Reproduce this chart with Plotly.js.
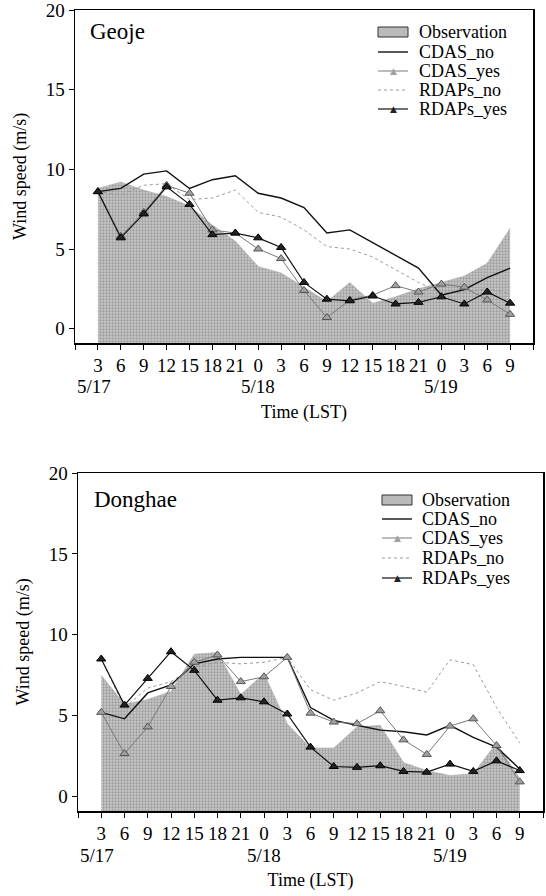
<!DOCTYPE html>
<html>
<head>
<meta charset="utf-8">
<script src="https://cdn.plot.ly/plotly-3.0.1.min.js"></script>
<style>
html,body{margin:0;padding:0;background:#fff;}
#chart{width:546px;height:896px;}
</style>
</head>
<body>
<div id="chart"></div>
<script>
// ---------- data ----------
const hourLabels = ['3','6','9','12','15','18','21','0','3','6','9','12','15','18','21','0','3','6','9'];
const dateLabels = ['5/17','5/18','5/19'];
const dateIndex  = [-1, 7, 15];           // index of hour 0 of each day
const yTickVals  = [0, 5, 10, 15, 20];
const seriesNames = ['Observation','CDAS_no','CDAS_yes','RDAPs_no','RDAPs_yes'];

// Geoje
const geojeObs      = [8.8, 9.2, 8.7, 8.3, 7.7, 6.5, 5.5, 3.9, 3.5, 2.6, 1.7, 2.9, 1.6, 2.0, 2.5, 2.9, 3.3, 4.1, 6.3];
const geojeCdasNo   = [8.6, 8.8, 9.7, 9.9, 8.8, 9.35, 9.6, 8.5, 8.2, 7.6, 6.0, 6.2, 5.4, 4.6, 3.8, 2.1, 2.45, 3.2, 3.8];
const geojeCdasYes  = [8.6, 5.8, 7.3, 9.0, 8.5, 6.2, 6.0, 5.0, 4.4, 2.4, 0.7, 1.8, 2.1, 2.7, 2.3, 2.8, 2.6, 1.8, 0.9];
const geojeRdapsNo  = [8.6, 8.4, 9.0, 9.1, 8.1, 8.2, 8.7, 7.3, 7.0, 6.2, 5.15, 5.0, 4.5, 3.7, 2.9, 2.25, 2.3, 2.5, 2.2];
const geojeRdapsYes = [8.6, 5.7, 7.2, 8.9, 7.8, 5.9, 6.0, 5.7, 5.1, 2.9, 1.85, 1.75, 2.05, 1.55, 1.65, 2.0, 1.55, 2.3, 1.6];

// Donghae
const donghaeObs      = [7.5, 5.7, 6.0, 6.5, 8.8, 8.9, 6.3, 7.6, 4.5, 3.0, 3.0, 4.3, 4.4, 2.1, 1.6, 1.3, 1.4, 3.3, 1.1];
const donghaeCdasNo   = [5.2, 4.8, 6.4, 6.9, 8.2, 8.5, 8.6, 8.6, 8.6, 5.5, 4.7, 4.4, 4.1, 4.0, 3.8, 4.4, 3.65, 3.05, 1.7];
const donghaeCdasYes  = [5.2, 2.65, 4.3, 6.8, 8.3, 8.75, 7.1, 7.4, 8.6, 5.15, 4.6, 4.5, 5.3, 3.5, 2.6, 4.35, 4.8, 3.15, 0.9];
const donghaeRdapsNo  = [8.5, 5.5, 6.7, 7.1, 8.0, 8.3, 8.2, 8.3, 8.6, 6.6, 5.95, 6.4, 7.1, 6.8, 6.45, 8.45, 8.15, 5.5, 3.3];
const donghaeRdapsYes = [8.5, 5.65, 7.3, 8.95, 7.8, 5.95, 6.1, 5.85, 5.1, 3.05, 1.85, 1.8, 1.9, 1.55, 1.5, 2.0, 1.55, 2.2, 1.6];

// ---------- layout helpers ----------
const W = 546, H = 896;
const fx = v => v / W;
const fy = v => 1 - v / H;
const FONT = 'Liberation Serif, Times New Roman, serif';
const Y_MIN = -0.9, Y_MAX = 20;
const X_MIN = -1, X_MAX = 19;
const idx = hourLabels.map((_, i) => i);
const tickVals = [];
for (let v = X_MIN; v <= X_MAX; v++) tickVals.push(v);
const tickText = tickVals.map(v => hourLabels[v] !== undefined ? hourLabels[v] : '');

const OBS_FILL = '#bababa';
const OBS_PATTERN = {shape: '.', fgcolor: '#9c9c9c', bgcolor: '#c9c9c9', size: 3, solidity: 0.45};
const styles = {
  CDAS_no:   {mode:'lines', line:{color:'#111', width:1.4}},
  CDAS_yes:  {mode:'lines+markers', line:{color:'#7a7a7a', width:1},
              marker:{symbol:'triangle-up', size:8, color:'#a0a0a0', line:{color:'#555', width:1}}},
  RDAPs_no:  {mode:'lines', line:{color:'#9a9a9a', width:1, dash:'dot'}},
  RDAPs_yes: {mode:'lines+markers', line:{color:'#111', width:1.2},
              marker:{symbol:'triangle-up', size:8, color:'#222', line:{color:'#000', width:1}}}
};

const panels = [
  {name:'Geoje', obs:geojeObs, CDAS_no:geojeCdasNo, CDAS_yes:geojeCdasYes, RDAPs_no:geojeRdapsNo, RDAPs_yes:geojeRdapsYes,
   xa:'x', ya:'y', box:[75,533,10,343], nameAt:[88,32], leg:{sx:378, tx:417, rows:[32,52,71,90,109]}},
  {name:'Donghae', obs:donghaeObs, CDAS_no:donghaeCdasNo, CDAS_yes:donghaeCdasYes, RDAPs_no:donghaeRdapsNo, RDAPs_yes:donghaeRdapsYes,
   xa:'x2', ya:'y2', box:[78,543,473,811], nameAt:[92,499], leg:{sx:382, tx:420, rows:[500,519,538,558,578]}}
];

const traces = [];
const annotations = [];
const shapes = [];
const layout = {
  width: W, height: H,
  margin: {l:0, r:0, t:0, b:0},
  paper_bgcolor: '#fff', plot_bgcolor: '#fff',
  showlegend: false,
  font: {family: FONT, color: '#000', size: 18}
};

panels.forEach((p, k) => {
  const xa = p.xa, ya = p.ya;
  // baseline at the bottom of the axis for the observation fill
  traces.push({x: idx, y: idx.map(() => Y_MIN), xaxis: xa, yaxis: ya, mode: 'lines',
    line: {width: 0, color: 'rgba(0,0,0,0)'}, hoverinfo: 'skip', showlegend: false});
  traces.push({x: idx, y: p.obs, xaxis: xa, yaxis: ya, name: 'Observation', mode: 'lines',
    fill: 'tonexty', fillcolor: OBS_FILL, fillpattern: OBS_PATTERN, line: {width: 0.5, color: '#a8a8a8'}});
  ['RDAPs_no', 'CDAS_no', 'CDAS_yes', 'RDAPs_yes'].forEach(s => {
    traces.push(Object.assign({x: idx, y: p[s], xaxis: xa, yaxis: ya, name: s}, JSON.parse(JSON.stringify(styles[s]))));
  });

  const [x0, x1, y0, y1] = p.box;
  const xKey = k === 0 ? 'xaxis' : 'xaxis2';
  const yKey = k === 0 ? 'yaxis' : 'yaxis2';
  layout[xKey] = {
    domain: [fx(x0), fx(x1)], anchor: ya, range: [X_MIN, X_MAX],
    tickmode: 'array', tickvals: tickVals, ticktext: tickText,
    ticks: 'outside', ticklen: 5, tickwidth: 1, tickcolor: '#000',
    showline: true, linecolor: '#000', linewidth: 1.5, mirror: true,
    showgrid: false, zeroline: false, fixedrange: true, ticklabeloverflow: 'allow',
    tickfont: {family: FONT, size: 19, color: '#000'},
    title: {text: 'Time (LST)', font: {family: FONT, size: 18, color: '#000'}, standoff: 30}
  };
  layout[yKey] = {
    domain: [fy(y1), fy(y0)], anchor: xa, range: [Y_MIN, Y_MAX],
    tickmode: 'array', tickvals: yTickVals,
    ticks: 'outside', ticklen: 5, tickwidth: 1, tickcolor: '#000',
    showline: true, linecolor: '#000', linewidth: 1.5, mirror: true,
    showgrid: false, zeroline: false, fixedrange: true, ticklabeloverflow: 'allow',
    tickfont: {family: FONT, size: 19, color: '#000'},
    title: {text: 'Wind speed (m/s)', font: {family: FONT, size: 18, color: '#000'}, standoff: 14}
  };

  // date labels under the hour ticks
  dateLabels.forEach((d, j) => {
    annotations.push({text: d, xref: xa, yref: 'paper', x: dateIndex[j], y: fy(y1 + 44),
      xanchor: j === 0 ? 'left' : 'center', yanchor: 'middle', showarrow: false,
      font: {family: FONT, size: 19, color: '#000'}});
  });

  // station name
  annotations.push({text: p.name, xref: 'paper', yref: 'paper', x: fx(p.nameAt[0]), y: fy(p.nameAt[1]),
    xanchor: 'left', yanchor: 'middle', showarrow: false, font: {family: FONT, size: 23, color: '#000'}});

  // legend (drawn by hand so rows can be tightly spaced as in the original)
  const L = p.leg;
  seriesNames.forEach((s, r) => {
    const ry = L.rows[r];
    annotations.push({text: s, xref: 'paper', yref: 'paper', x: fx(L.tx), y: fy(ry),
      xanchor: 'left', yanchor: 'middle', showarrow: false, font: {family: FONT, size: 18, color: '#000'}});
    if (s === 'Observation') {
      shapes.push({type: 'rect', xref: 'paper', yref: 'paper', x0: fx(L.sx), x1: fx(L.sx + 30),
        y0: fy(ry + 5), y1: fy(ry - 5), fillcolor: OBS_FILL, line: {color: '#333', width: 1}});
    } else {
      const st = styles[s];
      shapes.push({type: 'line', xref: 'paper', yref: 'paper', x0: fx(L.sx), x1: fx(L.sx + 30),
        y0: fy(ry), y1: fy(ry), line: {color: st.line.color, width: st.line.width, dash: st.line.dash || 'solid'}});
      if (st.marker) {
        annotations.push({text: '▲', xref: 'paper', yref: 'paper', x: fx(L.sx + 15), y: fy(ry),
          xanchor: 'center', yanchor: 'middle', showarrow: false,
          font: {family: 'DejaVu Sans', size: 9, color: st.marker.color}});
      }
    }
  });
});

layout.annotations = annotations;
layout.shapes = shapes;

Plotly.newPlot('chart', traces, layout, {displayModeBar: false, staticPlot: true});
</script>
</body>
</html>
